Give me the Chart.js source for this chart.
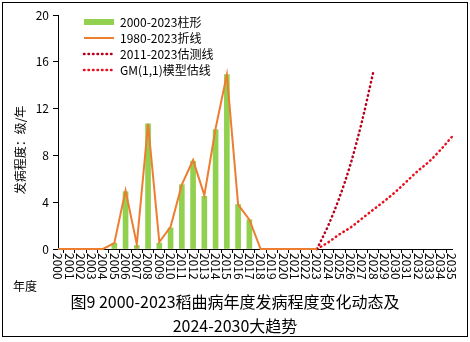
<!DOCTYPE html>
<html>
<head>
<meta charset="utf-8">
<script src="https://cdn.jsdelivr.net/npm/chart.js@4.4.1/dist/chart.umd.min.js"></script>
<style>
    html, body { margin: 0; padding: 0; background: #fff; }
    #wrap { width: 470px; height: 342px; }
</style>
</head>
<body>
<div id="wrap"><canvas id="chart"></canvas></div>
<script>
// 年份 (x 轴类别)
const years = [
    '2000', '2001', '2002', '2003', '2004', '2005', '2006', '2007', '2008', '2009',
    '2010', '2011', '2012', '2013', '2014', '2015', '2016', '2017', '2018', '2019',
    '2020', '2021', '2022', '2023', '2024', '2025', '2026', '2027', '2028', '2029',
    '2030', '2031', '2032', '2033', '2034', '2035'
];

// 2000-2023 柱形
const barValues = [0, 0, 0, 0, 0, 0.5, 4.9, 0.3, 10.7, 0.5, 1.8, 5.5, 7.5, 4.5, 10.2, 14.9, 3.8, 2.5, 0, 0, 0, 0, 0, 0];
// 1980-2023 折线 (自 2000 年起)
const lineValues = [0, 0, 0, 0, 0, 0.5, 5.0, 0.4, 10.7, 0.6, 1.9, 5.5, 7.6, 4.6, 10.3, 14.9, 3.8, 2.5, 0, 0, 0, 0, 0, 0];
// 2011-2023 估测线, 2023-2028
const trendStart = '2023';
const trendValues = [0, 2.0, 4.4, 7.3, 10.9, 15.1];
// GM(1,1) 模型估线, 2023-2035
const gmStart = '2023';
const gmValues = [0, 0.57, 1.25, 1.85, 2.6, 3.36, 4.1, 4.9, 5.8, 6.7, 7.5, 8.5, 9.6];

const yTicks = [0, 4, 8, 12, 16, 20];

const FONT = "'Noto Sans CJK SC', 'DejaVu Sans', sans-serif";
Chart.defaults.font.family = FONT;
Chart.defaults.color = '#000';

// 把从某年开始的一段数值铺到整个年份轴上
const spread = (startYear, vals) => {
    const start = years.indexOf(startYear);
    return years.map((_, i) => {
        const k = i - start;
        return k >= 0 && k < vals.length ? vals[k] : null;
    });
};

// 背景、旋转的年份标签、坐标轴标题和外框
const framePlugin = {
    id: 'frame',
    beforeDraw(chart) {
        const ctx = chart.ctx;
        ctx.save();
        ctx.fillStyle = '#fff';
        ctx.fillRect(0, 0, chart.width, chart.height);
        ctx.restore();
    },
    afterLayout(chart) {
        // 图例放在绘图区左上角
        chart.legend.left = chart.chartArea.left + 22;
        chart.legend.top = chart.chartArea.top - 3;
    },
    afterDraw(chart) {
        const ctx = chart.ctx;
        const x = chart.scales.x;
        const area = chart.chartArea;
        ctx.save();
        ctx.fillStyle = '#000';
        ctx.font = '12px ' + FONT;

        // 年份标签竖排
        ctx.textAlign = 'left';
        ctx.textBaseline = 'middle';
        years.forEach((label, i) => {
            const px = x.getPixelForValue(i);
            ctx.save();
            ctx.translate(px, area.bottom + 4);
            ctx.rotate(Math.PI / 2);
            ctx.fillText(label, 0, 0);
            ctx.restore();
        });

        ctx.fillText('年度', 13, 286);

        // y 轴标题
        ctx.save();
        ctx.translate(20, 150);
        ctx.rotate(-Math.PI / 2);
        ctx.textAlign = 'center';
        ctx.fillText('发病程度：级/年', 0, 0);
        ctx.restore();

        ctx.strokeStyle = '#000';
        ctx.lineWidth = 1;
        ctx.strokeRect(2.5, 2.5, 465, 334);
        ctx.restore();
    }
};

new Chart(document.getElementById('chart'), {
    type: 'bar',
    data: {
        labels: years,
        datasets: [
            {
                type: 'bar',
                label: '2000-2023柱形',
                data: barValues,
                backgroundColor: '#92D050',
                borderWidth: 0,
                barThickness: 5,
                order: 2
            },
            {
                type: 'line',
                label: '1980-2023折线',
                data: lineValues,
                borderColor: '#ED7D31',
                backgroundColor: '#ED7D31',
                borderWidth: 2,
                pointRadius: 0,
                tension: 0,
                clip: 4,
                order: 1
            },
            {
                type: 'line',
                label: '2011-2023估测线',
                data: spread(trendStart, trendValues),
                borderColor: '#B8001C',
                backgroundColor: '#B8001C',
                borderWidth: 2.5,
                borderDash: [0.5, 4],
                borderCapStyle: 'round',
                pointRadius: 0,
                cubicInterpolationMode: 'monotone',
                clip: 4,
                order: 1
            },
            {
                type: 'line',
                label: 'GM(1,1)模型估线',
                data: spread(gmStart, gmValues),
                borderColor: '#E8101E',
                backgroundColor: '#E8101E',
                borderWidth: 2.5,
                borderDash: [0.5, 4],
                borderCapStyle: 'round',
                pointRadius: 0,
                cubicInterpolationMode: 'monotone',
                clip: 4,
                order: 1
            }
        ]
    },
    options: {
        responsive: true,
        maintainAspectRatio: false,
        animation: false,
        layout: {
            padding: { left: 18, right: 18, top: 15, bottom: 4 }
        },
        plugins: {
            tooltip: { enabled: false },
            legend: {
                position: 'chartArea',
                align: 'start',
                labels: {
                    font: { size: 12 },
                    color: '#000',
                    usePointStyle: true,
                    pointStyleWidth: 30,
                    boxWidth: 30,
                    boxHeight: 6,
                    padding: 4,
                    sort: (a, b) => a.datasetIndex - b.datasetIndex,
                    generateLabels(chart) {
                        const items = Chart.defaults.plugins.legend.labels.generateLabels(chart);
                        items.forEach(item => {
                            const ds = chart.data.datasets[item.datasetIndex];
                            item.pointStyle = ds.type === 'line' ? 'line' : 'rect';
                            if (ds.type === 'line') {
                                item.lineWidth = ds.borderWidth;
                                item.lineDash = ds.borderDash || [];
                                item.lineCap = ds.borderCapStyle || 'butt';
                            }
                        });
                        return items;
                    }
                }
            },
            title: {
                display: true,
                position: 'bottom',
                text: ['图9 2000-2023稻曲病年度发病程度变化动态及', '2024-2030大趋势'],
                color: '#000',
                font: { size: 16, weight: 'normal', lineHeight: 1.5 },
                padding: { top: 0, bottom: 0 }
            }
        },
        scales: {
            x: {
                type: 'category',
                offset: false,
                grid: {
                    drawOnChartArea: false,
                    drawTicks: true,
                    tickLength: 4,
                    color: '#000'
                },
                border: { color: '#000', width: 1 },
                ticks: { display: false, autoSkip: false },
                afterFit(scale) { scale.height = 41; }
            },
            y: {
                min: 0,
                max: 20,
                afterBuildTicks(scale) {
                    scale.ticks = yTicks.map(v => ({ value: v }));
                },
                grid: {
                    drawOnChartArea: false,
                    drawTicks: true,
                    tickLength: 5,
                    color: '#000'
                },
                border: { color: '#000', width: 1 },
                ticks: {
                    font: { size: 12 },
                    color: '#000',
                    padding: 4
                },
                afterFit(scale) { scale.width = 40; }
            }
        }
    },
    plugins: [framePlugin]
});
</script>
</body>
</html>
